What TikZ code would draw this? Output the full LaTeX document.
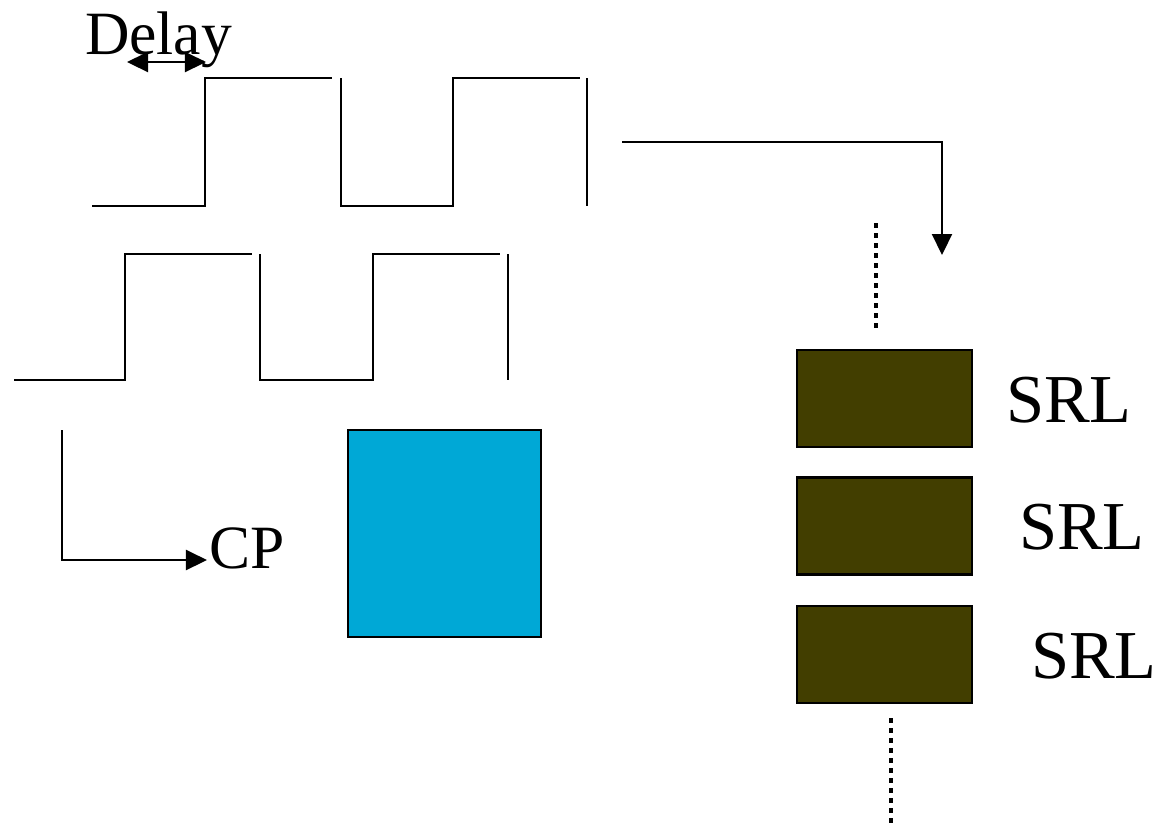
\documentclass[tikz,border=0pt]{standalone}
\usepackage{fontspec}
\setmainfont{Liberation Serif}
\usetikzlibrary{arrows.meta}

\definecolor{srlfill}{RGB}{66,62,0}
\definecolor{cpfill}{RGB}{0,168,214}

\begin{document}
\begin{tikzpicture}[
      x = 0.01cm, y = -0.01cm,
      every path/.style = {line width = 0.6pt},
      lbl/.style = {inner sep = 0pt, font = \fontsize{17.5}{21}\selectfont},
      srllbl/.style = {inner sep = 0pt, font = \fontsize{19.5}{23}\selectfont},
      srlbox/.style = {draw, fill = srlfill, inner sep = 0pt,
        minimum width = 1.75cm, minimum height = 0.97cm},
      cpbox/.style = {draw, fill = cpfill, inner sep = 0pt,
        minimum width = 1.93cm, minimum height = 2.07cm},
      dots/.style = {line width = 1.3pt, dash pattern = on 1.3pt off 1.55pt},
      tip/.style = {-{Triangle[length = 0.21cm, width = 0.2cm]}}
      ]
    \useasboundingbox (0,0) rectangle (1157,826);
    % delayed clock
    \draw (92,206) -- (205,206) -- (205,78) -- (332,78);
    \draw (341,78) -- (341,206) -- (453,206) -- (453,78) -- (580,78);
    \draw (587,78) -- (587,206);
    % clock
    \draw (14,380) -- (125,380) -- (125,254) -- (252,254);
    \draw (260,254) -- (260,380) -- (373,380) -- (373,254) -- (500,254);
    \draw (508,254) -- (508,380);
    % labels
    \node[lbl, anchor = base west] (delay) at (84,54) {Delay};
    \node[lbl, anchor = base west] (cp) at (208,568) {CP};
    \node[srllbl, anchor = base west] (lbl1) at (1005,422) {SRL};
    \node[srllbl, anchor = base west] (lbl2) at (1018,549) {SRL};
    \node[srllbl, anchor = base west] (lbl3) at (1030,678) {SRL};
    % boxes
    \node[cpbox] (cpb) at (444.5,533.5) {};
    \node[srlbox] (srl1) at (884.5,398.5) {};
    \node[srlbox] (srl2) at (884.5,526) {};
    \node[srlbox] (srl3) at (884.5,654.5) {};
    % connectors
    \coordinate (dl) at (127,62);
    \coordinate (dr) at (206,62);
    \coordinate (cpA) at (62,430);
    \coordinate (cpB) at (207,560);
    \coordinate (outA) at (622,142);
    \coordinate (outB) at (942,255);
    \coordinate (up1) at (876,223);
    \coordinate (up2) at (876,330);
    \coordinate (dn1) at (891,718);
    \coordinate (dn2) at (891,826);
    \draw[{Triangle[length = 0.21cm, width = 0.2cm]}-{Triangle[length = 0.21cm, width = 0.2cm]}] (dl) -- (dr);
    \draw[tip] (cpA) |- (cpB);
    \draw[tip] (outA) -| (outB);
    \draw[dots] (up1) -- (up2);
    \draw[dots] (dn1) -- (dn2);
  \end{tikzpicture}
\end{document}
